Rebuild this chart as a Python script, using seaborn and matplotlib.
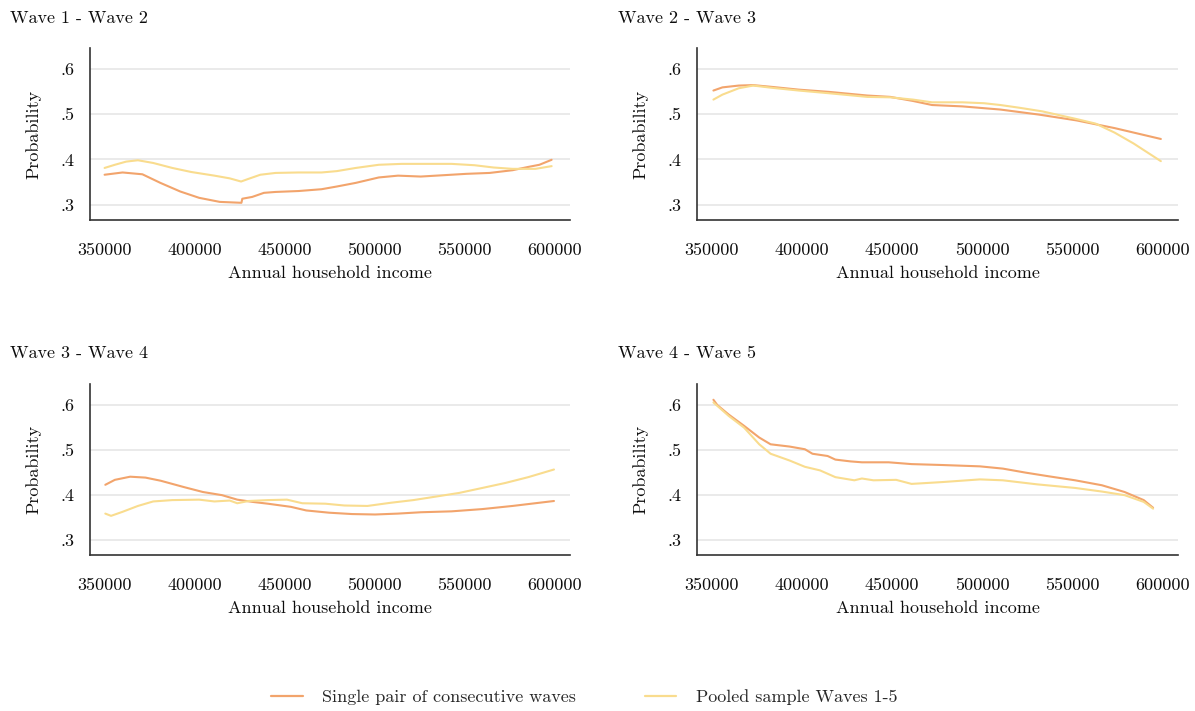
import numpy as np
import pandas as pd
import matplotlib
matplotlib.use("Agg")
import matplotlib.pyplot as plt
import seaborn as sns
from matplotlib.lines import Line2D

# ---------------- data ----------------
panel_titles = ["Wave 1 - Wave 2", "Wave 2 - Wave 3", "Wave 3 - Wave 4", "Wave 4 - Wave 5"]
series_names = ["Single pair of consecutive waves", "Pooled sample Waves 1-5"]
x_ticks = [350000, 400000, 450000, 500000, 550000, 600000]
x_tick_labels = ["350000", "400000", "450000", "500000", "550000", "600000"]
y_ticks = [0.3, 0.4, 0.5, 0.6]
y_tick_labels = [".3", ".4", ".5", ".6"]

# Panel 1: Wave 1 - Wave 2
p1_single_x = [350000, 360000, 371000, 381000, 392000, 402500, 414000, 420000, 426000, 426500,
               432000, 438500, 445000, 457700, 470500, 479000, 489500, 502300, 513000, 525600,
               538400, 551000, 563900, 576600, 585000, 591500, 598300]
p1_single_y = [0.366, 0.371, 0.367, 0.348, 0.329, 0.315, 0.306, 0.305, 0.304, 0.313,
               0.317, 0.326, 0.328, 0.330, 0.334, 0.340, 0.348, 0.360, 0.364, 0.362,
               0.365, 0.368, 0.370, 0.376, 0.383, 0.388, 0.399]
p1_pooled_x = [350000, 355700, 362000, 368500, 377000, 387600, 398200, 411000, 419500, 425800,
               430000, 436500, 445000, 457700, 470500, 479000, 489500, 502300, 515000, 530000,
               542700, 555500, 566000, 576600, 589300, 598300]
p1_pooled_y = [0.381, 0.388, 0.395, 0.398, 0.392, 0.381, 0.372, 0.364, 0.358, 0.351,
               0.357, 0.366, 0.370, 0.371, 0.371, 0.374, 0.381, 0.388, 0.390, 0.390,
               0.390, 0.387, 0.382, 0.379, 0.379, 0.385]

# Panel 2: Wave 2 - Wave 3
p2_single_x = [351000, 356000, 365000, 373000, 383600, 398300, 415200, 436300, 449000, 461600,
               472200, 489000, 510100, 531200, 552300, 573400, 599000]
p2_single_y = [0.552, 0.559, 0.563, 0.564, 0.560, 0.554, 0.549, 0.541, 0.538, 0.529,
               0.520, 0.517, 0.510, 0.499, 0.486, 0.469, 0.445]
p2_pooled_x = [351000, 356000, 365000, 373000, 383600, 398300, 415200, 436300, 449000, 461600,
               472200, 489000, 501000, 510100, 520600, 533300, 552300, 562800, 573400, 583900,
               599000]
p2_pooled_y = [0.532, 0.543, 0.557, 0.563, 0.558, 0.552, 0.546, 0.538, 0.537, 0.532,
               0.526, 0.526, 0.524, 0.520, 0.514, 0.506, 0.489, 0.479, 0.459, 0.435,
               0.396]

# Panel 3: Wave 3 - Wave 4
p3_single_x = [350400, 355700, 364200, 372700, 381200, 394000, 404600, 415200, 423700, 432200,
               440700, 453500, 462000, 474700, 487400, 500200, 512900, 525700, 542700, 559700,
               576600, 599600]
p3_single_y = [0.422, 0.433, 0.440, 0.438, 0.431, 0.417, 0.406, 0.399, 0.389, 0.384,
               0.380, 0.373, 0.365, 0.360, 0.357, 0.356, 0.358, 0.361, 0.363, 0.368,
               0.375, 0.386]
p3_pooled_x = [350400, 353600, 360000, 368500, 377000, 387600, 402500, 411000, 419500, 423700,
               430000, 440700, 451300, 459800, 472600, 483200, 496000, 508800, 521500, 534300,
               547000, 559800, 572500, 585300, 599600]
p3_pooled_y = [0.358, 0.353, 0.362, 0.375, 0.385, 0.388, 0.389, 0.385, 0.387, 0.381,
               0.386, 0.388, 0.389, 0.381, 0.380, 0.376, 0.375, 0.382, 0.388, 0.396,
               0.404, 0.415, 0.426, 0.439, 0.456]

# Panel 4: Wave 4 - Wave 5
p4_single_x = [351000, 353200, 359500, 368000, 376400, 382700, 393200, 401700, 405900, 414300,
               418600, 427000, 433300, 448100, 460800, 477600, 498700, 511400, 524100, 536700,
               551500, 566300, 578900, 589500, 594700]
p4_single_y = [0.611, 0.599, 0.578, 0.553, 0.527, 0.512, 0.507, 0.501, 0.491, 0.486,
               0.478, 0.474, 0.472, 0.472, 0.468, 0.466, 0.463, 0.458, 0.449, 0.441,
               0.432, 0.421, 0.406, 0.388, 0.371]
p4_pooled_x = [351000, 359500, 368000, 376400, 382700, 393200, 401700, 410100, 418600, 429100,
               433300, 439700, 452300, 460800, 477600, 498700, 511400, 530400, 551500, 566300,
               578900, 589500, 594700]
p4_pooled_y = [0.605, 0.575, 0.549, 0.512, 0.491, 0.476, 0.462, 0.454, 0.439, 0.432,
               0.436, 0.432, 0.433, 0.424, 0.428, 0.434, 0.432, 0.423, 0.415, 0.407,
               0.399, 0.384, 0.369]

panels = [
    (p1_single_x, p1_single_y, p1_pooled_x, p1_pooled_y),
    (p2_single_x, p2_single_y, p2_pooled_x, p2_pooled_y),
    (p3_single_x, p3_single_y, p3_pooled_x, p3_pooled_y),
    (p4_single_x, p4_single_y, p4_pooled_x, p4_pooled_y),
]

rows = []
for pi, (sx, sy, px, py) in enumerate(panels):
    for x, y in zip(sx, sy):
        rows.append((pi, series_names[0], x, y))
    for x, y in zip(px, py):
        rows.append((pi, series_names[1], x, y))
df = pd.DataFrame(rows, columns=["panel", "series", "income", "prob"])

# ---------------- style ----------------
sns.set_theme(style="white")
plt.rcParams["font.family"] = ["cmr10", "DejaVu Serif"]
plt.rcParams["mathtext.fontset"] = "cm"
plt.rcParams["axes.formatter.use_mathtext"] = True
plt.rcParams["axes.unicode_minus"] = False

colors = {series_names[0]: "#F2A46C", series_names[1]: "#F9DC8E"}
FS = 13
TXT = "#0d0d0d"

W, H = 1195, 711
fig = plt.figure(figsize=(W / 100, H / 100), dpi=100)

# axes rectangles in pixels: (left, top, right, bottom)
rects_px = [(90, 48, 570, 220), (697, 48, 1178, 220),
            (90, 384, 570, 555), (697, 384, 1178, 555)]
title_pos = [(10, 18), (618, 18), (10, 353), (618, 353)]

for pi in range(4):
    l, t, r, b = rects_px[pi]
    ax = fig.add_axes([l / W, 1 - b / H, (r - l) / W, (b - t) / H])
    sub = df[df["panel"] == pi]
    sns.lineplot(data=sub, x="income", y="prob", hue="series", palette=colors,
                 hue_order=series_names, ax=ax, legend=False, linewidth=1.5,
                 estimator=None, sort=True)
    ax.set_xlim(341900, 608500)
    ax.set_ylim(0.266, 0.646)
    ax.set_xticks(x_ticks)
    ax.set_xticklabels(x_tick_labels)
    ax.set_yticks(y_ticks)
    ax.set_yticklabels(y_tick_labels)
    ax.tick_params(axis="both", length=0, labelsize=FS, colors=TXT)
    ax.tick_params(axis="x", pad=16)
    ax.tick_params(axis="y", pad=11)
    ax.grid(axis="y", color="#e6e6e6", linewidth=1.2)
    ax.grid(axis="x", visible=False)
    ax.set_axisbelow(True)
    for s in ["top", "right"]:
        ax.spines[s].set_visible(False)
    for s in ["left", "bottom"]:
        ax.spines[s].set_color("#333333")
        ax.spines[s].set_linewidth(1.2)
    ax.set_xlabel("Annual household income", fontsize=FS, labelpad=6, color=TXT)
    ax.set_ylabel("Probability", fontsize=FS, labelpad=14, color=TXT)
    tx, ty = title_pos[pi]
    fig.text(tx / W, 1 - ty / H, panel_titles[pi], fontsize=FS, ha="left", va="center",
             color=TXT)

handles = [Line2D([0], [0], color=colors[n], lw=1.6) for n in series_names]
fig.legend(handles, series_names, loc="center", bbox_to_anchor=(0.489, 1 - 697 / H),
           ncol=2, frameon=False, fontsize=FS, handlelength=1.75, handletextpad=1.1,
           columnspacing=3.8)

fig.savefig("out.png", dpi=100)
